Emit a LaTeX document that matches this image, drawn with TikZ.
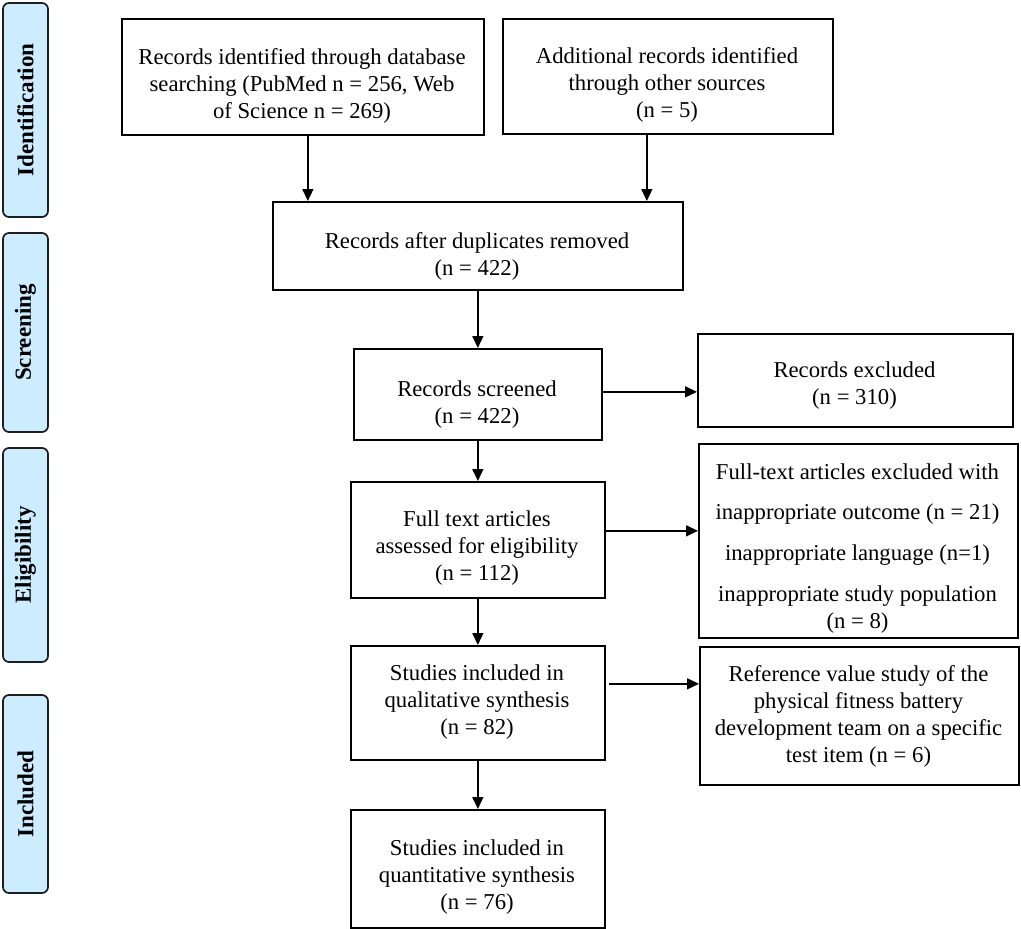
\documentclass[tikz,border=0pt]{standalone}
\usepackage{fontspec}
\setmainfont{Liberation Serif}
\usetikzlibrary{arrows.meta,calc}
\definecolor{sidefill}{RGB}{204,236,255}
\definecolor{sidedraw}{RGB}{30,30,30}
\begin{document}
\begin{tikzpicture}[x=1pt,y=-1pt,
  box/.style={draw=black, line width=1.7pt, inner sep=0pt, anchor=north west},
  txt/.style={align=center, font=\fontsize{22.7}{27}\selectfont, inner sep=0pt},
  side/.style={draw=sidedraw, fill=sidefill, line width=1.7pt, rounded corners=6pt,
    inner sep=0pt, minimum height=45pt, rotate=90,
    font=\fontsize{23}{27}\selectfont\bfseries},
  arr/.style={-{Triangle[length=12pt,width=11pt]}, line width=1.5pt}]
\useasboundingbox (0,0) rectangle (1021,929);

% phase labels
\node[side, minimum width=214pt] (s1) at (25.5,110) {Identification};
\node[side, minimum width=199pt] (s2) at (25.5,332.5) {Screening};
\node[side, minimum width=214pt] (s3) at (25.5,555) {Eligibility};
\node[side, minimum width=198pt] (s4) at (25.5,794) {Included};

% boxes
\node[box, minimum width=362pt, minimum height=116pt] (b1) at (121,18) {};
\node[box, minimum width=330pt, minimum height=115pt] (b2) at (502,18) {};
\node[box, minimum width=410pt, minimum height=88pt]  (b3) at (272,201) {};
\node[box, minimum width=248pt, minimum height=91pt]  (b4) at (353,348) {};
\node[box, minimum width=315pt, minimum height=93pt]  (b5) at (697,333) {};
\node[box, minimum width=254pt, minimum height=116pt] (b6) at (350,481) {};
\node[box, minimum width=319pt, minimum height=194pt] (b7) at (698,443) {};
\node[box, minimum width=254pt, minimum height=114pt] (b9) at (350,645) {};
\node[box, minimum width=319pt, minimum height=138pt] (b8) at (699,646) {};
\node[box, minimum width=254pt, minimum height=118pt] (b10) at (350,809) {};

% texts
\node[txt] (t1) at (302,86) {Records identified through database\\searching (PubMed n = 256, Web\\of Science n = 269)};
\node[txt] (t2) at (667,85) {Additional records identified\\through other sources\\(n = 5)};
\node[txt] (t3) at (477,256.5) {Records after duplicates removed\\(n = 422)};
\node[txt] (t4) at (477,404.5) {Records screened\\(n = 422)};
\node[txt] (t5) at (854.5,386) {Records excluded\\(n = 310)};
\node[txt] (t6) at (477,548) {Full text articles\\assessed for eligibility\\(n = 112)};
\node[txt] (t7) at (857.5,549) {Full-text articles excluded with\\[13pt]inappropriate outcome (n = 21)\\[14pt]inappropriate language (n=1)\\[14pt]inappropriate study population\\(n = 8)};
\node[txt] (t9) at (477,702) {Studies included in\\qualitative synthesis\\(n = 82)};
\node[txt] (t8) at (858.5,716) {Reference value study of the\\physical fitness battery\\development team on a specific\\test item (n = 6)};
\node[txt] (t10) at (477,877) {Studies included in\\quantitative synthesis\\(n = 76)};

% connectors
\draw[arr] (b1.south) ++(5,0) coordinate (a1) -- (a1 |- b3.north);
\draw[arr] (b2.south) ++(-21,0) coordinate (a2) -- (a2 |- b3.north);
\draw[arr] (b3.south) -- (b4.north);
\draw[arr] ($(b4.east)+(0,-2.5)$) coordinate (a4) -- (a4 -| b5.west);
\draw[arr] (b4.south) -- (b6.north);
\draw[arr] ($(b6.east)+(0,-9)$) coordinate (a6) -- (a6 -| b7.west);
\draw[arr] (b6.south) -- (b9.north);
\draw[arr] ($(b9.east)+(3,-19)$) coordinate (a8) -- (a8 -| b8.west);
\draw[arr] (b9.south) -- (b10.north);
\end{tikzpicture}
\end{document}
